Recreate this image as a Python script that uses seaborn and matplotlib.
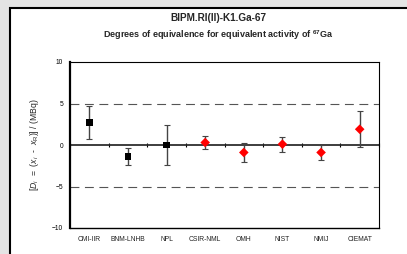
import matplotlib
matplotlib.use("Agg")
import matplotlib.pyplot as plt
import seaborn as sns
import pandas as pd
import numpy as np
from matplotlib.patches import Rectangle

labs = ["CMI-IIR", "BNM-LNHB", "NPL", "CSIR-NML", "OMH", "NIST", "NMIJ", "CIEMAT"]
values = [2.7, -1.4, 0.0, 0.3, -0.9, 0.1, -0.9, 1.9]
uncert = [1.95, 1.0, 2.45, 0.75, 1.15, 0.9, 0.9, 2.15]
group = ["K1", "K1", "K1", "SIR", "SIR", "SIR", "SIR", "SIR"]
yticks = [-10, -5, 0, 5, 10]

sns.set_theme(style="white")
plt.rcParams['font.family'] = ['Liberation Sans', 'DejaVu Sans']
plt.rcParams['mathtext.fontset'] = 'custom'
plt.rcParams['mathtext.rm'] = 'Liberation Sans'
plt.rcParams['mathtext.it'] = 'Liberation Sans:italic'
plt.rcParams['mathtext.bf'] = 'Liberation Sans:bold'

df = pd.DataFrame({"lab": labs, "value": values, "u": uncert, "group": group})
df["x"] = np.arange(len(labs))

fig = plt.figure(figsize=(4.07, 2.54), dpi=100)
fig.patch.set_facecolor('#e4e4e4')
fig.patches.append(Rectangle((10/407, -0.1), 1.2, 1 - 8/254 + 0.1, transform=fig.transFigure,
                             facecolor='white', edgecolor='black', linewidth=1.5, zorder=-10))
ax = fig.add_axes([70/407, 1 - 228/254, 309/407, 166/254])
ax.set_zorder(5)
ax.set_facecolor('white')

ax.axhline(5, color='#555555', lw=0.8, dashes=(8, 5), zorder=1)
ax.axhline(-5, color='#555555', lw=0.8, dashes=(8, 5), zorder=1)

ax.errorbar(df["x"], df["value"], yerr=df["u"], fmt='none', ecolor='#444444',
            elinewidth=1.0, capsize=2.5, capthick=0.8, zorder=3)
sns.scatterplot(data=df, x="x", y="value", hue="group", style="group",
                markers={"K1": "s", "SIR": "D"},
                palette={"K1": "black", "SIR": "#ff0000"},
                s=24, edgecolor=None, linewidth=0, legend=False, ax=ax, zorder=4)

ax.set_xlim(-0.5, len(labs) - 0.5)
ax.set_ylim(-10, 10)
ax.set_xticks(df["x"], labels=labs)
ax.set_yticks(yticks)
ax.tick_params(axis='x', length=0, labelsize=4.9, pad=6, colors='#222222')
ax.tick_params(axis='y', length=3, width=0.6, direction='out', labelsize=4.8, pad=2, colors='black')
ax.set_xlabel("")
ax.set_ylabel(r"[$\mathbf{\mathit{D}}_{\mathit{i}}$  =  ($\mathit{x}_{\mathit{i}}$  -  $\mathit{x}_{\mathrm{R}}$)] / (MBq)",
              fontsize=6.2, labelpad=8)
for s in ['top', 'right', 'bottom']:
    ax.spines[s].set_color('black')
    ax.spines[s].set_linewidth(0.8)
ax.spines['left'].set_color('black')
ax.spines['left'].set_linewidth(1.6)
ax.spines['bottom'].set_linewidth(1.0)

# zero axis with boundary ticks
sec = ax.secondary_xaxis(0.5)
sec.set_xticks(np.arange(len(labs) + 1) - 0.5, labels=[])
sec.tick_params(direction='inout', length=2.5, width=0.8, color='black')
sec.spines['bottom'].set_color('#666666')
sec.spines['bottom'].set_linewidth(1.5)

fig.text(218/407, 1 - 18/254, "BIPM.RI(II)-K1.Ga-67", ha='center', va='center',
         fontsize=7.2, fontweight='bold')
fig.text(218/407, 1 - 35/254, r"Degrees of equivalence for equivalent activity of $^{\mathbf{67}}$Ga",
         ha='center', va='center', fontsize=6.5, fontweight='bold')

fig.savefig("out.png", dpi=100, facecolor=fig.get_facecolor())
